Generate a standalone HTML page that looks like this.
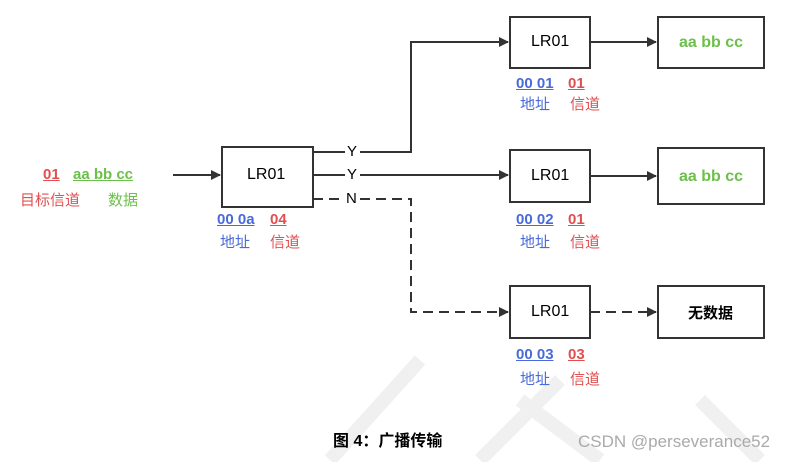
<!DOCTYPE html>
<html><head><meta charset="utf-8"><style>
body{margin:0;width:806px;height:462px;background:#fff;overflow:hidden;position:relative;font-family:"Liberation Sans","Noto Sans CJK SC",sans-serif}
.t{position:absolute;white-space:nowrap;font-size:15px}
.r{color:#e05050}.g{color:#6cc04a}.b{color:#4a6ad8}
.u{font-weight:bold;text-decoration:underline;font-size:15px}
</style></head><body>
<svg width="806" height="462" style="position:absolute;left:0;top:0">
<defs><marker id="a" markerWidth="10" markerHeight="10" refX="9" refY="5" orient="auto" markerUnits="userSpaceOnUse"><path d="M0,0 L10,5 L0,10z" fill="#333"/></marker></defs>
<g fill="none" stroke="#333" stroke-width="2">
<path d="M330,460 L420,360 M480,460 L560,380 M520,400 L600,460 M700,400 L760,460" stroke="#f0f0f0" stroke-width="14"/>
<rect x="222" y="147" width="91" height="60"/>
<rect x="510" y="17" width="80" height="51"/>
<rect x="658" y="17" width="106" height="51"/>
<rect x="510" y="150" width="80" height="52"/>
<rect x="658" y="148" width="106" height="56"/>
<rect x="510" y="286" width="80" height="52"/>
<rect x="658" y="286" width="106" height="52"/>
<line x1="173" y1="175" x2="220" y2="175" marker-end="url(#a)"/>
<path d="M313,152 H345 M360,152 H411 V42 H508" marker-end="url(#a)"/>
<path d="M313,175 H345 M360,175 H508" marker-end="url(#a)"/>
<path d="M313,199 H345 M360,199 H411 V312 H508" stroke-dasharray="10,6" marker-end="url(#a)"/>
<line x1="590" y1="42" x2="656" y2="42" marker-end="url(#a)"/>
<line x1="590" y1="176" x2="656" y2="176" marker-end="url(#a)"/>
<line x1="590" y1="312" x2="656" y2="312" stroke-dasharray="10,6" marker-end="url(#a)"/>
</g></svg>
<div class="t" style="left:347px;top:143px">Y</div>
<div class="t" style="left:347px;top:166px">Y</div>
<div class="t" style="left:346px;top:190px">N</div>
<div class="t" style="left:247px;top:166px;font-size:16px">LR01</div>
<div class="t" style="left:531px;top:33px;font-size:16px">LR01</div>
<div class="t" style="left:531px;top:167px;font-size:16px">LR01</div>
<div class="t" style="left:531px;top:303px;font-size:16px">LR01</div>
<div class="t g" style="left:679px;top:34px;font-weight:bold;font-size:16px">aa bb cc</div>
<div class="t g" style="left:679px;top:168px;font-weight:bold;font-size:16px">aa bb cc</div>
<div class="t" style="left:688px;top:302px;font-weight:bold">无数据</div>
<div class="t u r" style="left:43px;top:166px">01</div>
<div class="t u g" style="left:73px;top:166px">aa bb cc</div>
<div class="t r" style="left:20px;top:189px">目标信道</div>
<div class="t g" style="left:108px;top:189px">数据</div>
<div class="t u b" style="left:217px;top:211px">00 0a</div><div class="t u r" style="left:270px;top:211px">04</div>
<div class="t b" style="left:220px;top:231px">地址</div><div class="t r" style="left:270px;top:231px">信道</div>
<div class="t u b" style="left:516px;top:75px">00 01</div><div class="t u r" style="left:568px;top:75px">01</div>
<div class="t b" style="left:520px;top:93px">地址</div><div class="t r" style="left:570px;top:93px">信道</div>
<div class="t u b" style="left:516px;top:211px">00 02</div><div class="t u r" style="left:568px;top:211px">01</div>
<div class="t b" style="left:520px;top:231px">地址</div><div class="t r" style="left:570px;top:231px">信道</div>
<div class="t u b" style="left:516px;top:346px">00 03</div><div class="t u r" style="left:568px;top:346px">03</div>
<div class="t b" style="left:520px;top:368px">地址</div><div class="t r" style="left:570px;top:368px">信道</div>
<div class="t" style="left:333px;top:427px;font-weight:bold;font-size:16px">图 4：广播传输</div>
<div class="t" style="left:578px;top:432px;color:#aaa;font-size:17px">CSDN @perseverance52</div>
</body></html>
